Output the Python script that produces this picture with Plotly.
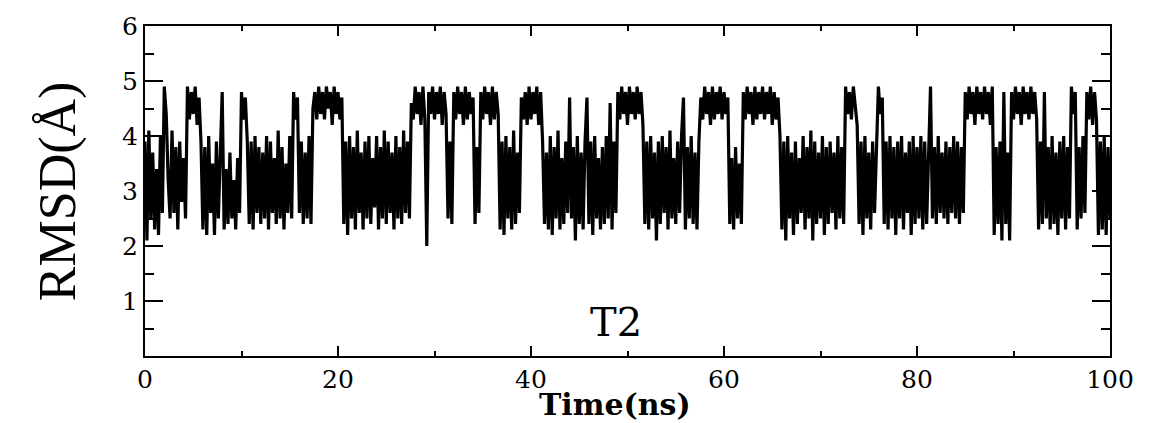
import plotly.graph_objects as go

# time step 0.2 ns (RMSD in Angstrom)
dt = 0.2
rmsd = [
    3.9, 2.1, 4.1, 2.5, 3.7, 2.3, 3.4, 2.2, 4.0, 2.6,
    4.9, 4.4, 3.2, 2.5, 4.1, 2.6, 3.8, 2.3, 3.9, 2.8,
    3.6, 2.5, 4.9, 4.3, 4.8, 4.4, 4.9, 4.2, 4.7, 3.9,
    2.3, 3.8, 2.2, 4.0, 2.6, 3.5, 2.2, 3.9, 2.5, 3.6,
    4.8, 2.3, 3.4, 2.4, 3.7, 2.5, 3.2, 2.3, 3.6, 2.6,
    4.8, 4.3, 4.7, 3.9, 2.4, 3.9, 2.3, 4.0, 2.6, 3.8,
    2.4, 3.7, 2.5, 4.0, 2.3, 3.9, 2.6, 3.6, 2.4, 4.1,
    2.5, 3.8, 2.3, 3.5, 2.6, 4.0, 2.5, 4.8, 4.3, 4.7,
    2.6, 3.9, 2.4, 3.7, 2.5, 4.0, 2.4, 4.5, 4.8, 4.3,
    4.9, 4.4, 4.8, 4.3, 4.9, 4.5, 4.8, 4.2, 4.9, 4.4,
    4.8, 4.3, 4.7, 2.4, 3.9, 2.2, 4.0, 2.5, 3.8, 2.3,
    4.1, 2.6, 3.7, 2.3, 3.9, 2.5, 4.0, 2.4, 3.6, 2.7,
    4.0, 2.3, 3.8, 2.5, 4.1, 2.4, 3.9, 2.6, 3.7, 2.3,
    4.0, 2.5, 3.8, 2.4, 4.1, 2.6, 3.9, 2.5, 4.6, 4.3,
    4.9, 4.4, 4.8, 4.2, 4.9, 4.3, 2.0, 4.8, 4.4, 4.9,
    4.3, 4.8, 4.4, 4.9, 4.2, 4.8, 4.4, 2.5, 3.9, 2.4,
    4.8, 4.3, 4.9, 4.4, 4.8, 4.2, 4.9, 4.3, 4.8, 4.4,
    4.7, 2.4, 3.8, 2.6, 4.8, 4.3, 4.9, 4.4, 4.8, 4.2,
    4.9, 4.3, 4.8, 4.4, 2.3, 3.9, 2.2, 4.0, 2.5, 3.8,
    2.3, 4.1, 2.4, 3.7, 2.6, 4.7, 4.3, 4.8, 4.2, 4.9,
    4.3, 4.8, 4.4, 4.9, 4.2, 4.8, 3.9, 2.4, 3.7, 2.3,
    4.0, 2.2, 3.8, 2.5, 4.1, 2.3, 3.6, 2.4, 3.9, 2.6,
    4.7, 2.5, 3.8, 2.1, 4.0, 2.4, 3.7, 2.3, 3.9, 4.7,
    2.4, 3.9, 2.2, 4.0, 2.5, 3.6, 2.3, 3.8, 2.4, 4.0,
    2.5, 4.6, 2.3, 3.9, 2.6, 4.8, 4.3, 4.9, 4.4, 4.8,
    4.2, 4.9, 4.4, 4.8, 4.3, 4.9, 4.4, 4.8, 4.2, 2.4,
    3.9, 2.3, 4.0, 2.5, 3.7, 2.1, 3.9, 2.4, 4.0, 2.6,
    3.8, 2.3, 4.1, 2.5, 3.6, 2.4, 3.9, 2.6, 4.0, 4.7,
    2.3, 3.8, 2.5, 4.0, 2.4, 3.7, 2.3, 3.9, 4.7, 4.3,
    4.9, 4.4, 4.8, 4.2, 4.9, 4.3, 4.8, 4.4, 4.9, 4.3,
    4.8, 4.4, 4.7, 2.4, 3.6, 2.3, 3.8, 2.5, 3.5, 2.4,
    4.8, 4.3, 4.9, 4.4, 4.8, 4.2, 4.9, 4.3, 4.8, 4.4,
    4.9, 4.3, 4.8, 4.4, 4.9, 4.2, 4.8, 4.3, 4.7, 4.0,
    2.3, 3.9, 2.1, 4.0, 2.5, 3.7, 2.2, 3.9, 2.4, 3.6,
    2.6, 4.0, 2.3, 3.8, 2.5, 4.1, 2.1, 3.9, 2.4, 3.7,
    2.5, 4.0, 2.2, 3.8, 2.4, 3.9, 2.6, 3.7, 2.3, 4.0,
    2.5, 3.8, 2.4, 4.9, 4.4, 4.8, 4.3, 4.9, 4.5, 4.2,
    2.4, 3.9, 2.2, 4.0, 2.5, 3.7, 2.3, 3.9, 2.6, 3.8,
    4.9, 4.4, 4.7, 2.4, 3.9, 2.3, 4.0, 2.5, 3.8, 2.2,
    3.9, 2.5, 4.0, 2.3, 3.7, 2.6, 3.9, 2.2, 4.0, 2.4,
    3.8, 2.5, 4.0, 2.3, 3.9, 2.4, 3.7, 4.9, 2.5, 3.8,
    2.4, 4.0, 2.6, 3.7, 2.5, 3.9, 2.4, 3.8, 2.6, 4.0,
    2.5, 3.9, 2.4, 3.8, 2.6, 4.8, 4.3, 4.9, 4.4, 4.8,
    4.2, 4.9, 4.4, 4.8, 4.3, 4.9, 4.4, 4.8, 4.2, 4.9,
    2.2, 3.8, 2.4, 3.9, 2.1, 4.8, 2.4, 3.7, 2.1, 4.8,
    4.3, 4.9, 4.4, 4.8, 4.2, 4.9, 4.4, 4.8, 4.3, 4.9,
    4.4, 4.8, 4.3, 2.3, 3.9, 2.4, 4.8, 2.5, 3.8, 2.3,
    4.0, 2.4, 3.7, 2.2, 3.9, 2.5, 4.0, 2.3, 3.8, 2.5,
    4.9, 4.4, 4.8, 2.3, 3.8, 2.5, 4.0, 2.6, 4.8, 4.3,
    4.9, 4.2, 4.8, 4.3, 2.2, 3.9, 2.3, 4.0, 2.2, 3.8,
    2.5,
]
time_ns = [round(i * dt, 1) for i in range(len(rmsd))]

x_ticks = [0, 20, 40, 60, 80, 100]
y_ticks = [1, 2, 3, 4, 5, 6]

tick_font = dict(family="DejaVu Serif", size=25, color="black")

fig = go.Figure()
fig.add_trace(go.Scatter(x=time_ns, y=rmsd, mode="lines",
                         line=dict(color="black", width=3.2),
                         showlegend=False, hoverinfo="skip"))

fig.update_layout(
    width=1155, height=423,
    margin=dict(l=145, r=45, t=21, b=67),
    paper_bgcolor="white", plot_bgcolor="white",
    xaxis=dict(range=[0, 100], tickvals=x_ticks, ticks="inside", ticklen=10,
               tickwidth=1.5, tickcolor="black", showline=True, linecolor="black",
               linewidth=2, mirror="allticks", showgrid=False, zeroline=False,
               tickfont=tick_font,
               minor=dict(dtick=10, ticks="inside", ticklen=5, tickwidth=1.5,
                          tickcolor="black", showgrid=False)),
    yaxis=dict(range=[0, 6], tickvals=y_ticks, ticks="inside", ticklen=18,
               tickwidth=1.5, tickcolor="black", showline=True, linecolor="black",
               linewidth=2, mirror="allticks", showgrid=False, zeroline=False,
               tickfont=tick_font,
               minor=dict(dtick=0.5, ticks="inside", ticklen=9, tickwidth=1.5,
                          tickcolor="black", showgrid=False)),
    annotations=[
        dict(text="RMSD(Å)", xref="paper", yref="paper", x=-0.09, y=0.5,
             xanchor="center", yanchor="middle", textangle=-90, showarrow=False,
             font=dict(family="Liberation Serif", size=52, color="black")),
        dict(text="<b>Time(ns)</b>", xref="paper", yref="paper", x=0.487, y=-0.147,
             xanchor="center", yanchor="middle", showarrow=False,
             font=dict(family="DejaVu Serif", size=30, color="black")),
        dict(text="T2", xref="x", yref="y", x=48.8, y=0.61,
             xanchor="center", yanchor="middle", showarrow=False,
             font=dict(family="DejaVu Serif", size=40, color="black")),
    ],
)

fig.write_html("out.html")
